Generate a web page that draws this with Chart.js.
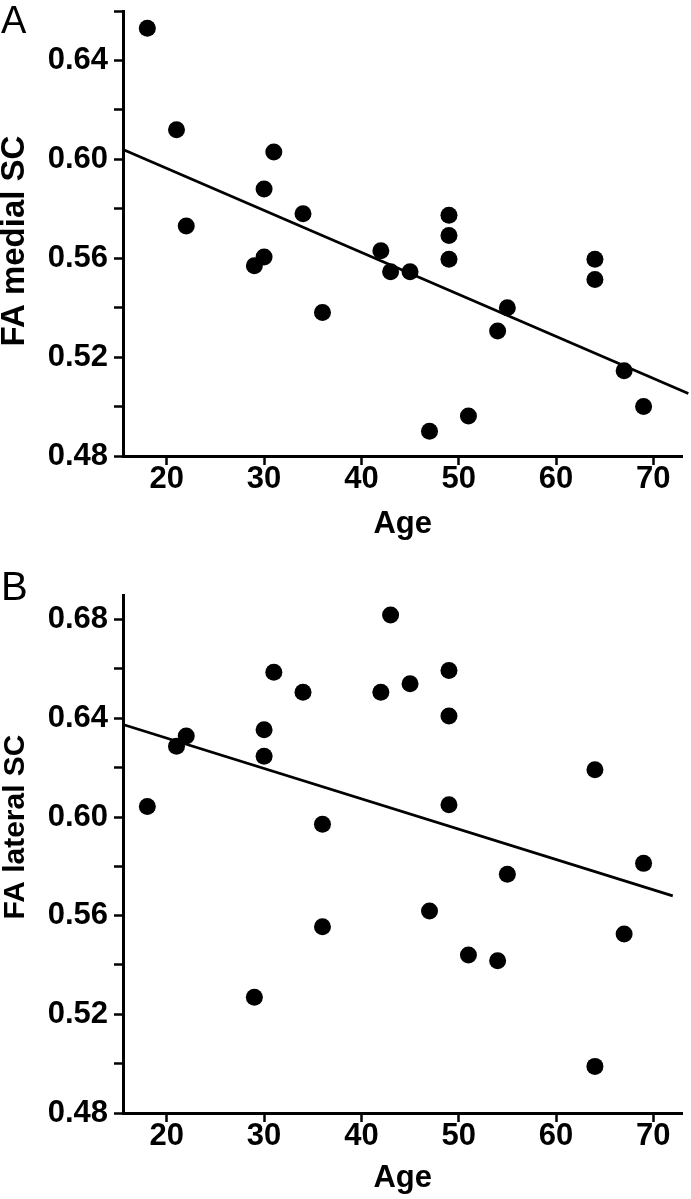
<!DOCTYPE html>
<html>
<head>
<meta charset="utf-8">
<script src="https://cdn.jsdelivr.net/npm/chart.js@4/dist/chart.umd.min.js"></script>
<style>
  html, body { margin: 0; padding: 0; background: #fff; }
  #wrap { position: relative; width: 691px; height: 1199px; overflow: hidden; }
  #boxA { position: absolute; left: 0; top: 0; width: 691px; height: 556px; }
  #boxB { position: absolute; left: 0; top: 556px; width: 691px; height: 643px; }
</style>
</head>
<body>
<div id="wrap">
  <div id="boxA"><canvas id="chartA" width="691" height="556"></canvas></div>
  <div id="boxB"><canvas id="chartB" width="691" height="643"></canvas></div>
</div>
<script>
// ---- Data ----
const agesA = [18, 21, 22, 29, 30, 30, 31, 34, 36, 42, 43, 45, 47, 49, 49, 49, 51, 54, 55, 64, 64, 67, 69];
const faMedialSC = [0.653, 0.612, 0.573, 0.557, 0.5605, 0.588, 0.603, 0.578, 0.538, 0.563, 0.5545, 0.5545, 0.490, 0.5774, 0.5692, 0.5596, 0.4962, 0.5306, 0.540, 0.5596, 0.5514, 0.5145, 0.500];

const agesB = [18, 21, 22, 29, 30, 30, 31, 34, 36, 36, 42, 43, 45, 47, 49, 49, 49, 51, 54, 55, 64, 64, 67, 69];
const faLateralSC = [0.6043, 0.6287, 0.6328, 0.5269, 0.6354, 0.6246, 0.6587, 0.6506, 0.5971, 0.5555, 0.6506, 0.6819, 0.654, 0.5619, 0.6594, 0.6409, 0.605, 0.5441, 0.5417, 0.5768, 0.6192, 0.4989, 0.5526, 0.5812];

// Regression line end points
const fitAx = [15.5, 73.6];
const fitAy = [0.604, 0.5053];
const fitBx = [15.5, 72.0];
const fitBy = [0.6375, 0.568];

// Axis ticks
const xTicks = [20, 30, 40, 50, 60, 70];
const yTicksA = [0.48, 0.50, 0.52, 0.54, 0.56, 0.58, 0.60, 0.62, 0.64, 0.66];
const yLabelsA = [0.48, 0.52, 0.56, 0.60, 0.64];
const yTicksB = [0.48, 0.50, 0.52, 0.54, 0.56, 0.58, 0.60, 0.62, 0.64, 0.66, 0.68];
const yLabelsB = [0.48, 0.52, 0.56, 0.60, 0.64, 0.68];

const xTitle = 'Age';
const yTitleA = 'FA medial SC';
const yTitleB = 'FA lateral SC';
const panelA = 'A';
const panelB = 'B';

// ---- Chart construction ----
const FONT = '"Liberation Sans", Arial, Helvetica, sans-serif';

function toPoints(xs, ys) { return xs.map((x, i) => ({ x: x, y: ys[i] })); }

const overlayText = {
  id: 'overlayText',
  afterDraw(chart, args, opts) {
    const ctx = chart.ctx;
    ctx.save();
    ctx.fillStyle = '#000';
    // panel letter
    ctx.font = 'normal ' + opts.letterSize + 'px ' + FONT;
    ctx.textAlign = 'left';
    ctx.textBaseline = 'alphabetic';
    ctx.fillText(opts.letter, opts.letterX, opts.letterY);
    // rotated y title
    ctx.translate(opts.titleX, opts.titleY);
    ctx.rotate(-Math.PI / 2);
    ctx.font = 'bold ' + opts.titleSize + 'px ' + FONT;
    ctx.textAlign = 'center';
    ctx.fillText(opts.title, 0, 0);
    ctx.restore();
  }
};

function makeChart(canvasId, cfg) {
  const tickFont = { family: FONT, size: 31, weight: 'bold', lineHeight: 1 };
  return new Chart(document.getElementById(canvasId), {
    type: 'scatter',
    data: {
      datasets: [
        {
          type: 'scatter',
          data: toPoints(cfg.xs, cfg.ys),
          pointRadius: 8.5,
          pointHoverRadius: 8.5,
          backgroundColor: '#000',
          borderWidth: 0
        },
        {
          type: 'line',
          data: toPoints(cfg.fitX, cfg.fitY),
          borderColor: '#000',
          borderWidth: 2.8,
          pointRadius: 0,
          fill: false,
          clip: false
        }
      ]
    },
    options: {
      responsive: false,
      animation: false,
      events: [],
      layout: { padding: { top: cfg.padTop, right: 6, left: 0, bottom: 0 } },
      plugins: {
        legend: { display: false },
        tooltip: { enabled: false },
        overlayText: cfg.overlay
      },
      scales: {
        x: {
          type: 'linear',
          min: 15.5,
          max: 73,
          afterBuildTicks: (s) => { s.ticks = xTicks.map(v => ({ value: v })); },
          afterFit: (s) => { s.height = cfg.xHeight; s.paddingLeft = 0; s.paddingRight = 0; },
          ticks: {
            font: tickFont, color: '#000', padding: -1,
            maxRotation: 0, autoSkip: false,
            callback: (v) => String(v)
          },
          grid: { drawOnChartArea: false, drawTicks: true, tickLength: 9, tickWidth: 2.5, tickColor: '#000' },
          border: { display: true, color: '#000', width: 3 },
          title: {
            display: true, text: xTitle, color: '#000',
            font: { family: FONT, size: 31, weight: 'bold', lineHeight: 1 },
            padding: { top: 0, bottom: cfg.xTitlePad }
          }
        },
        y: {
          type: 'linear',
          min: 0.48,
          max: cfg.yMax,
          afterBuildTicks: (s) => { s.ticks = cfg.yTicks.map(v => ({ value: v })); },
          afterFit: (s) => { s.width = 123; s.paddingTop = 0; s.paddingBottom = 0; },
          ticks: {
            font: tickFont, color: '#000', padding: 6, autoSkip: false,
            callback: (v) => cfg.yLabels.some(m => Math.abs(m - v) < 1e-9) ? Number(v).toFixed(2) : ''
          },
          grid: { drawOnChartArea: false, drawTicks: true, tickLength: 9, tickWidth: 2.5, tickColor: '#000' },
          border: { display: true, color: '#000', width: 3 }
        }
      }
    },
    plugins: [overlayText]
  });
}

makeChart('chartA', {
  xs: agesA, ys: faMedialSC, fitX: fitAx, fitY: fitAy,
  yMax: 0.66, yTicks: yTicksA, yLabels: yLabelsA,
  padTop: 11, xHeight: 100, xTitlePad: 16,
  overlay: { letter: panelA, letterSize: 38, letterX: 1, letterY: 33,
             title: yTitleA, titleSize: 33, titleX: 24, titleY: 241 }
});

makeChart('chartB', {
  xs: agesB, ys: faLateralSC, fitX: fitBx, fitY: fitBy,
  yMax: 0.69, yTicks: yTicksB, yLabels: yLabelsB,
  padTop: 39, xHeight: 86, xTitlePad: 5,
  overlay: { letter: panelB, letterSize: 40, letterX: 1, letterY: 44,
             title: yTitleB, titleSize: 30, titleX: 24, titleY: 271 }
});
</script>
</body>
</html>
